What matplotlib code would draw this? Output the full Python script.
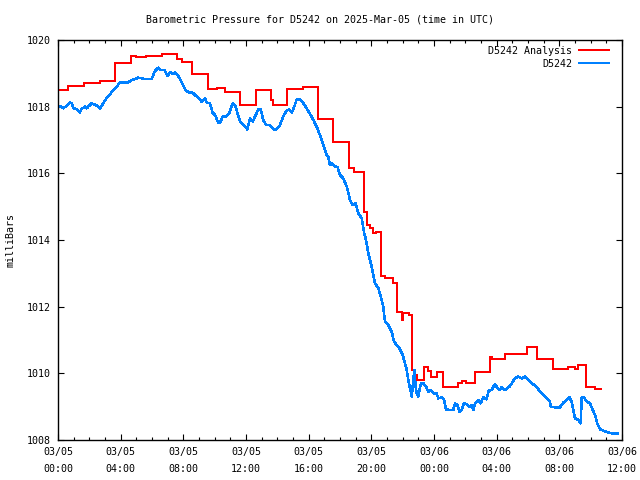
import numpy as np
import matplotlib
matplotlib.use("Agg")
import matplotlib.pyplot as plt
from matplotlib.ticker import MultipleLocator

# hours after 2025-03-05 00:00 UTC, pressure in mb
obs_hours = [0.02, 0.24, 0.34, 0.56, 0.77, 0.87, 0.98, 1.19, 1.40, 1.51, 1.72, 1.83, 1.93, 2.15,
             2.32, 2.47, 2.68, 2.89, 3.11, 3.32, 3.53, 3.75, 3.96, 4.49, 4.70, 4.91, 5.13, 5.34,
             5.55, 5.98, 6.19, 6.40, 6.57, 6.79, 7.00, 7.15, 7.36, 7.47, 7.68, 7.90, 8.11, 8.32,
             8.60, 8.81, 9.06, 9.17, 9.38, 9.49, 9.70, 9.87, 10.02, 10.23, 10.34, 10.51, 10.72,
             10.93, 11.15, 11.30, 11.51, 11.66, 11.87, 12.08, 12.26, 12.43, 12.57, 12.79, 12.94,
             13.10, 13.28, 13.53, 13.74, 13.96, 14.17, 14.38, 14.60, 14.76, 14.92, 15.08, 15.24,
             15.45, 15.66, 15.87, 16.09, 16.30, 16.51, 16.72, 16.93, 17.15, 17.25, 17.36, 17.47,
             17.64, 17.85, 18.00, 18.21, 18.43, 18.64, 18.79, 19.00, 19.17, 19.39, 19.55, 19.66,
             19.81, 20.02, 20.23, 20.45, 20.60, 20.76, 20.87, 21.08, 21.30, 21.45, 21.62, 21.79,
             22.00, 22.15, 22.26, 22.36, 22.47, 22.58, 22.68, 22.74, 22.83, 22.90, 23.00, 23.11,
             23.21, 23.32, 23.49, 23.64, 23.79, 23.96, 24.17, 24.27, 24.49, 24.64, 24.77, 24.98,
             25.23, 25.34, 25.49, 25.62, 25.77, 25.91, 26.09, 26.25, 26.41, 26.51, 26.62, 26.83,
             26.98, 27.15, 27.36, 27.49, 27.68, 27.89, 28.00, 28.17, 28.32, 28.53, 28.81, 28.96,
             29.17, 29.38, 29.60, 29.81, 30.02, 30.24, 30.51, 30.72, 30.98, 31.19, 31.40, 31.45,
             31.72, 32.04, 32.25, 32.47, 32.64, 32.79, 32.89, 33.00, 33.21, 33.36, 33.43, 33.57,
             33.75, 33.96, 34.13, 34.28, 34.42, 34.60, 34.81, 35.02, 35.34, 35.70]
obs_mb = [1018.00, 1018.00, 1017.95, 1018.03, 1018.13, 1018.10, 1017.95, 1017.93, 1017.83, 1017.93,
          1018.00, 1017.95, 1018.00, 1018.10, 1018.07, 1018.03, 1017.95, 1018.10, 1018.27, 1018.37,
          1018.50, 1018.60, 1018.73, 1018.73, 1018.80, 1018.83, 1018.87, 1018.85, 1018.83, 1018.83,
          1019.07, 1019.17, 1019.10, 1019.10, 1018.93, 1019.03, 1018.98, 1019.02, 1018.92, 1018.72,
          1018.52, 1018.43, 1018.42, 1018.32, 1018.22, 1018.15, 1018.25, 1018.12, 1018.10, 1017.82,
          1017.75, 1017.52, 1017.52, 1017.70, 1017.70, 1017.80, 1018.10, 1018.05, 1017.72, 1017.52,
          1017.45, 1017.32, 1017.65, 1017.55, 1017.70, 1017.92, 1017.92, 1017.60, 1017.45, 1017.45,
          1017.32, 1017.32, 1017.45, 1017.72, 1017.88, 1017.92, 1017.82, 1018.00, 1018.22, 1018.22,
          1018.10, 1017.95, 1017.78, 1017.60, 1017.40, 1017.15, 1016.85, 1016.55, 1016.50, 1016.25,
          1016.30, 1016.22, 1016.18, 1015.95, 1015.85, 1015.60, 1015.20, 1015.05, 1015.10, 1014.80,
          1014.65, 1014.20, 1014.00, 1013.60, 1013.20, 1012.70, 1012.55, 1012.30, 1012.00, 1011.55,
          1011.45, 1011.25, 1010.95, 1010.85, 1010.75, 1010.55, 1010.30, 1010.10, 1009.80, 1009.55,
          1009.30, 1009.80, 1010.10, 1009.60, 1009.40, 1009.30, 1009.60, 1009.70, 1009.70, 1009.60,
          1009.45, 1009.50, 1009.40, 1009.40, 1009.25, 1009.28, 1009.20, 1008.92, 1008.90, 1008.90,
          1009.10, 1009.05, 1008.85, 1008.90, 1009.10, 1009.08, 1009.00, 1009.05, 1008.90, 1009.10,
          1009.20, 1009.10, 1009.28, 1009.22, 1009.48, 1009.50, 1009.68, 1009.60, 1009.50, 1009.58,
          1009.50, 1009.60, 1009.70, 1009.85, 1009.90, 1009.85, 1009.90, 1009.80, 1009.70, 1009.62,
          1009.48, 1009.35, 1009.25, 1009.15, 1009.00, 1008.98, 1008.98, 1009.12, 1009.20, 1009.28,
          1009.15, 1008.90, 1008.65, 1008.60, 1008.50, 1009.28, 1009.28, 1009.15, 1009.10, 1008.90,
          1008.75, 1008.50, 1008.32, 1008.28, 1008.24, 1008.20, 1008.20]

# analysis: each value holds until the next time
ana_hours = [0.00, 0.62, 1.68, 2.68, 3.64, 4.66, 4.98, 5.64, 6.62, 7.62, 7.93, 8.57, 9.59, 10.13,
             10.66, 11.62, 12.62, 13.58, 13.70, 14.60, 15.66, 16.58, 17.57, 18.59, 18.89, 19.53,
             19.70, 19.91, 20.09, 20.30, 20.60, 20.89, 21.40, 21.66, 21.97, 22.04, 22.42, 22.58,
             22.72, 22.89, 23.36, 23.62, 23.81, 24.16, 24.56, 25.55, 25.77, 26.04, 26.64, 27.60,
             27.70, 28.54, 29.92, 30.55, 31.58, 32.57, 33.00, 33.17, 33.68, 34.28, 34.64]
ana_mb = [1018.50, 1018.61, 1018.71, 1018.76, 1019.30, 1019.52, 1019.49, 1019.53, 1019.57, 1019.42,
          1019.33, 1018.98, 1018.53, 1018.55, 1018.44, 1018.05, 1018.50, 1018.20, 1018.05, 1018.52,
          1018.58, 1017.62, 1016.95, 1016.15, 1016.04, 1014.85, 1014.45, 1014.37, 1014.20, 1014.25,
          1012.92, 1012.85, 1012.70, 1011.85, 1011.60, 1011.82, 1011.75, 1010.10, 1009.95, 1009.80,
          1010.18, 1010.08, 1009.90, 1010.05, 1009.60, 1009.70, 1009.78, 1009.72, 1010.03, 1010.50,
          1010.42, 1010.58, 1010.78, 1010.43, 1010.12, 1010.20, 1010.12, 1010.25, 1009.58, 1009.52,
          1009.52]

tick_hours = [0, 4, 8, 12, 16, 20, 24, 28, 32, 36]
tick_labels = ["03/05\n00:00", "03/05\n04:00", "03/05\n08:00", "03/05\n12:00", "03/05\n16:00",
               "03/05\n20:00", "03/06\n00:00", "03/06\n04:00", "03/06\n08:00", "03/06\n12:00"]

plt.rcParams['font.family'] = ['DejaVu Sans Mono']
plt.rcParams['font.size'] = 7.2

fig = plt.figure(figsize=(6.4, 4.8), dpi=100)
ax = fig.add_axes([58 / 640, 40 / 480, 564 / 640, 400 / 480])

ax.plot(ana_hours, ana_mb, color='#ff0000', lw=1.1, drawstyle='steps-post',
        antialiased=False, label='D5242 Analysis')
ax.plot(obs_hours, obs_mb, color='#0080ff', lw=1.1, antialiased=False, label='D5242')

ax.set_xlim(0, 36)
ax.set_ylim(1008, 1020)
ax.set_xticks(tick_hours)
ax.set_xticklabels(tick_labels, linespacing=1.9)
ax.xaxis.set_minor_locator(MultipleLocator(1))
ax.set_yticks(np.arange(1008, 1021, 2))
ax.tick_params(which='both', direction='in', top=True, right=True, width=0.8, colors='black')
ax.tick_params(which='major', length=4.5, pad=5)
ax.tick_params(which='minor', length=2.2)
for s in ax.spines.values():
    s.set_linewidth(1.0)

ax.set_ylabel('milliBars', labelpad=8)
fig.text(0.5, 1 - 20 / 480, 'Barometric Pressure for D5242 on 2025-Mar-05 (time in UTC)',
         ha='center', va='center')

leg = ax.legend(loc='upper right', bbox_to_anchor=(1, 1 + 7 / 400), frameon=False,
                markerfirst=False, handlelength=3.0, borderaxespad=0.9, labelspacing=0.3,
                handletextpad=0.7)
for line in leg.get_lines():
    line.set_antialiased(False)

fig.savefig('out.png', dpi=100)
